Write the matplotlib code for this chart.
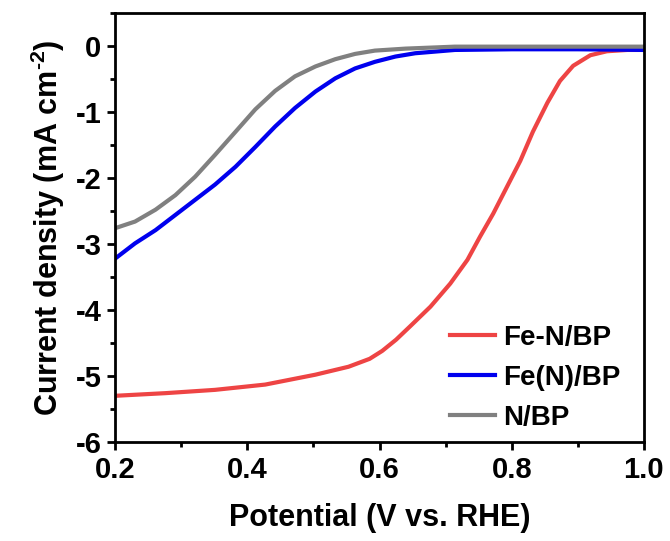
import matplotlib
matplotlib.use("Agg")
import matplotlib.pyplot as plt
from matplotlib.ticker import MultipleLocator

plt.rcParams['font.family'] = ['Liberation Sans', 'DejaVu Sans']
plt.rcParams['font.weight'] = 'bold'
plt.rcParams['mathtext.fontset'] = 'custom'
plt.rcParams['mathtext.rm'] = 'Liberation Sans:bold'
plt.rcParams['mathtext.bf'] = 'Liberation Sans:bold'
plt.rcParams['mathtext.default'] = 'bf'

# LSV curves
fe_n_x = [0.200, 0.276, 0.351, 0.427, 0.503, 0.553, 0.585, 0.604, 0.625, 0.646, 0.677, 0.707,
          0.733, 0.752, 0.772, 0.793, 0.813, 0.832, 0.854, 0.873, 0.893, 0.919, 0.944, 0.975, 1.000]
fe_n_y = [-5.30, -5.26, -5.21, -5.13, -4.98, -4.86, -4.74, -4.62, -4.45, -4.25, -3.95, -3.60,
          -3.24, -2.89, -2.54, -2.13, -1.74, -1.30, -0.86, -0.53, -0.30, -0.14, -0.08, -0.06, -0.06]

fen_x = [0.200, 0.230, 0.261, 0.291, 0.321, 0.351, 0.382, 0.412, 0.442, 0.472, 0.503, 0.533,
         0.563, 0.593, 0.624, 0.654, 0.714, 0.80, 0.90, 1.00]
fen_y = [-3.22, -2.99, -2.79, -2.56, -2.33, -2.10, -1.83, -1.53, -1.22, -0.94, -0.69, -0.49,
         -0.34, -0.24, -0.16, -0.11, -0.06, -0.05, -0.05, -0.06]

n_x = [0.200, 0.230, 0.261, 0.291, 0.321, 0.351, 0.382, 0.412, 0.442, 0.472, 0.503, 0.533,
       0.563, 0.593, 0.639, 0.714, 0.80, 0.90, 1.00]
n_y = [-2.76, -2.66, -2.48, -2.26, -1.98, -1.65, -1.30, -0.96, -0.68, -0.46, -0.31, -0.20,
       -0.12, -0.07, -0.04, -0.01, -0.01, -0.01, -0.01]

fig = plt.figure(figsize=(6.7, 5.41), dpi=100)
ax = fig.add_axes([0.172, 0.183, 0.789, 0.793])

ax.plot(fe_n_x, fe_n_y, color='#EE4444', lw=3, label='Fe-N/BP', solid_joinstyle='round')
ax.plot(fen_x, fen_y, color='#0000EE', lw=3, label='Fe(N)/BP', solid_joinstyle='round')
ax.plot(n_x, n_y, color='#808080', lw=3, label='N/BP', solid_joinstyle='round')

ax.set_xlim(0.2, 1.0)
ax.set_ylim(-6, 0.5)
ax.xaxis.set_minor_locator(MultipleLocator(0.1))
ax.yaxis.set_minor_locator(MultipleLocator(0.5))
ax.set_xticks([0.2, 0.4, 0.6, 0.8, 1.0])
ax.set_xticklabels(['0.2', '0.4', '0.6', '0.8', '1.0'])
ax.set_yticks([0, -1, -2, -3, -4, -5, -6])
ax.set_yticklabels(['0', '-1', '-2', '-3', '-4', '-5', '-6'])

ax.tick_params(which='major', direction='out', length=6, width=2, labelsize=21, pad=4)
ax.tick_params(which='minor', direction='out', length=3.5, width=2)
for s in ax.spines.values():
    s.set_linewidth(2)

ax.set_xlabel('Potential (V vs. RHE)', fontsize=22, fontweight='bold', labelpad=14)
ax.set_ylabel(r'Current density (mA cm$^{\text{-2}}$)', fontsize=22, fontweight='bold', labelpad=6)

ax.legend(loc='lower right', frameon=False, fontsize=20, handlelength=1.6, handletextpad=0.3,
          labelspacing=0.5, borderaxespad=0.0, bbox_to_anchor=(0.977, 0.0))

fig.savefig('out.png', dpi=100)
